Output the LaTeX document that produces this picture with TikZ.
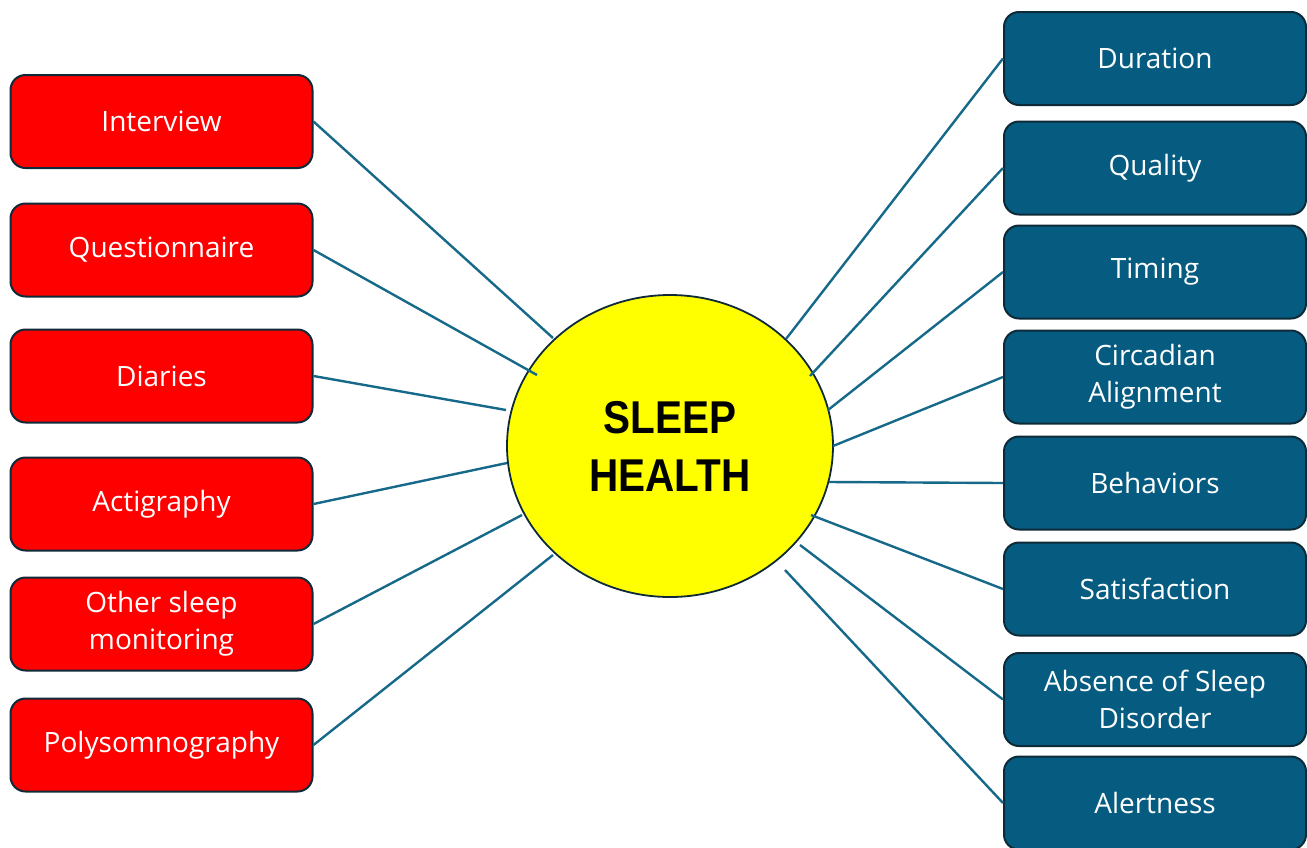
\documentclass[tikz,border=0pt]{standalone}
\usepackage{fontspec}
\setmainfont{Open Sans}
\newfontfamily\hubfont{Liberation Sans}
\usetikzlibrary{shapes.geometric}
\definecolor{methodred}{HTML}{FF0000}
\definecolor{dimblue}{HTML}{065C80}
\definecolor{edgedark}{HTML}{0E2A38}
\definecolor{linkblue}{HTML}{17698A}
\definecolor{hubyellow}{HTML}{FFFF00}
\tikzset{
  box/.style={draw=edgedark, line width=1pt, rounded corners=7.5pt,
    minimum width=151pt, minimum height=46.5pt, inner sep=2pt,
    align=center, text=white, font=\fontsize{14}{18.5}\selectfont},
  method/.style={box, fill=methodred},
  dimension/.style={box, fill=dimblue},
  hub/.style={ellipse, draw=edgedark, line width=0.9pt, fill=hubyellow,
    minimum width=163pt, minimum height=151pt, inner sep=0pt, align=center,
    font=\hubfont\bfseries\fontsize{23}{29}\selectfont},
  link/.style={draw=linkblue, line width=1.2pt}
}
\begin{document}
\begin{tikzpicture}[x=0.5pt,y=-0.5pt]
\useasboundingbox (0,0) rectangle (1307,847);

% central concept
\node[hub] (hub) at (670,446) {\scalebox{0.88}[1]{SLEEP}\\\scalebox{0.88}[1]{HEALTH}};

% measurement methods
\node[method] (m1) at (161.5,121.5) {Interview};
\node[method] (m2) at (161.5,250) {Questionnaire};
\node[method] (m3) at (161.5,376) {Diaries};
\node[method] (m4) at (161.5,504) {Actigraphy};
\node[method] (m5) at (161.5,624) {Other sleep\\monitoring};
\node[method] (m6) at (161.5,745) {Polysomnography};

% dimensions of sleep health
\node[dimension] (d1) at (1155,58.5) {Duration};
\node[dimension] (d2) at (1155,168) {Quality};
\node[dimension] (d3) at (1155,272) {Timing};
\node[dimension] (d4) at (1155,377) {Circadian\\Alignment};
\node[dimension] (d5) at (1155,483) {Behaviors};
\node[dimension] (d6) at (1155,589) {Satisfaction};
\node[dimension] (d7) at (1155,699.5) {Absence of Sleep\\Disorder};
\node[dimension] (d8) at (1155,803) {Alertness};

% ends of the spokes at the hub
\coordinate (e1) at (553,338);
\coordinate (e2) at (537,375);
\coordinate (e3) at (506,410);
\coordinate (e4) at (507,463);
\coordinate (e5) at (522,515);
\coordinate (e6) at (553,555);
\coordinate (f1) at (786,339);
\coordinate (f2) at (810,376);
\coordinate (f3) at (828,410);
\coordinate (f4) at (833,446);
\coordinate (f5) at (829,482);
\coordinate (f6) at (811,515);
\coordinate (f7) at (800,545);
\coordinate (f8) at (785,570);

% spokes
\foreach \i in {1,...,6} \draw[link] (m\i.east) -- (e\i);
\foreach \i in {1,...,8} \draw[link] (d\i.west) -- (f\i);
\end{tikzpicture}
\end{document}
